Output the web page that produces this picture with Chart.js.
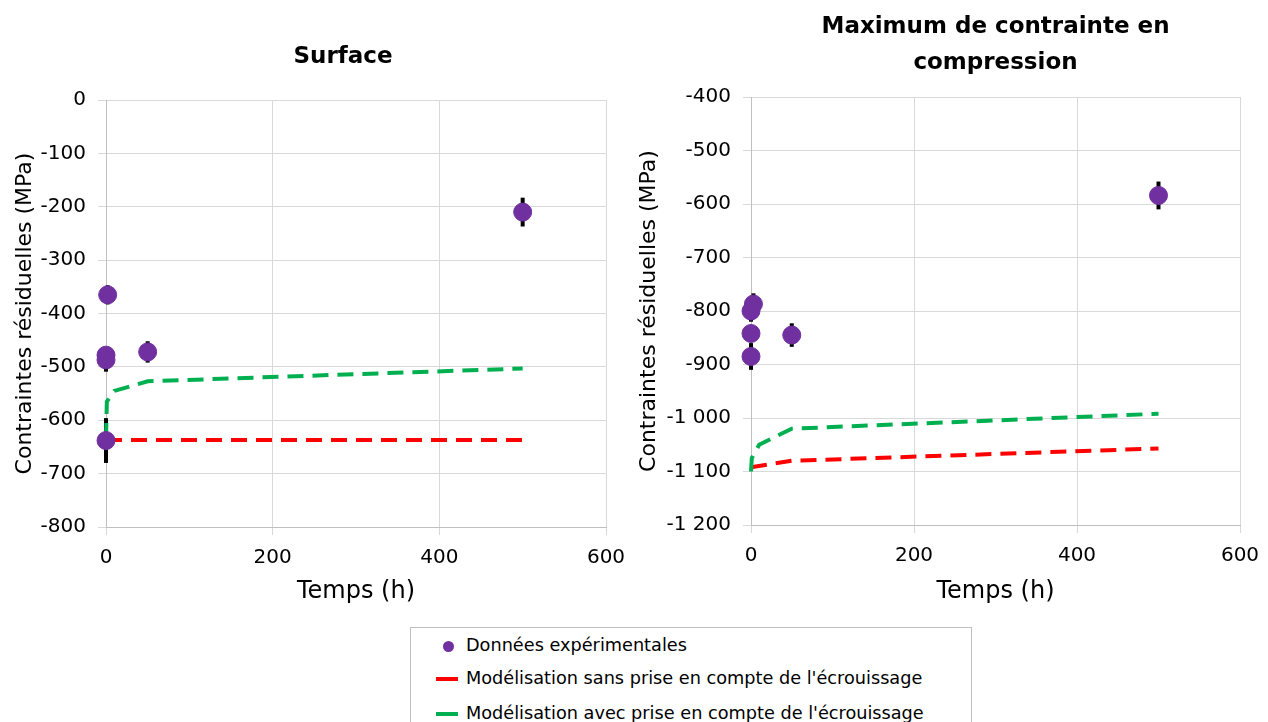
<!DOCTYPE html>
<html>
<head>
<meta charset="utf-8">
<script src="https://cdn.jsdelivr.net/npm/chart.js@4"></script>
<style>
  body { margin: 0; background: #fff; width: 1268px; height: 722px; overflow: hidden; position: relative; font-family: "DejaVu Sans", sans-serif; }
  #c1 { position: absolute; left: 0; top: 0; }
  #c2 { position: absolute; left: 620px; top: 0; }
  #legend { position: absolute; left: 410px; top: 627px; width: 562px; height: 110px; border: 1px solid #bfbfbf; box-sizing: border-box; }
  .item { position: absolute; left: 0; font-size: 17.7px; color: #000; white-space: nowrap; }
  .item span { position: absolute; left: 55px; top: -11px; }
  .dot { position: absolute; left: 32px; top: -5px; width: 11px; height: 11px; border-radius: 50%; background: #7030A0; }
  .dash { position: absolute; left: 25px; top: -2px; width: 22px; height: 4px; }
</style>
</head>
<body>
<canvas id="c1" width="640" height="612"></canvas>
<canvas id="c2" width="648" height="612"></canvas>
<div id="legend">
  <div class="item" style="top:18px"><div class="dot"></div><span>Données expérimentales</span></div>
  <div class="item" style="top:51px"><div class="dash" style="background:#FF0000"></div><span>Modélisation sans prise en compte de l'écrouissage</span></div>
  <div class="item" style="top:86px"><div class="dash" style="background:#00B050"></div><span>Modélisation avec prise en compte de l'écrouissage</span></div>
</div>
<script>
// Surface
const surfTemps = [500, 2, 0, 0, 50, 0];
const surfVals = [-210, -365, -478, -487, -472, -638];
const surfErr = [27, 18, 15, 22, 20, 42];
const surfSansT = [0, 500];
const surfSansV = [-637, -637];
const surfAvecT = [0, 1, 10, 50, 500];
const surfAvecV = [-635, -565, -545, -527, -503];

// Maximum de contrainte en compression
const maxTemps = [500, 0, 3, 0, 0, 50];
const maxVals = [-584, -800, -787, -842, -885, -845];
const maxErr = [26, 20, 20, 15, 25, 22];
const maxSansT = [0, 50, 500];
const maxSansV = [-1092, -1080, -1057];
const maxAvecT = [0, 1, 10, 50, 500];
const maxAvecV = [-1100, -1075, -1050, -1020, -992];

const xTicks = [0, 200, 400, 600];

const font = 'DejaVu Sans';
const toPts = (xs, ys) => xs.map((x, i) => ({ x: x, y: ys[i] }));
const fmt = (v) => {
  const s = Math.abs(v).toString().replace(/\B(?=(\d{3})+(?!\d))/g, ' ');
  return (v < 0 ? '-' : '') + s;
};

// error bars drawn under the points
const errorBars = {
  id: 'errorBars',
  beforeDatasetsDraw(chart) {
    const ctx = chart.ctx;
    const xs = chart.scales.x, ys = chart.scales.y;
    chart.data.datasets.forEach((ds) => {
      if (!ds.errBars) return;
      ctx.save();
      ctx.strokeStyle = '#000';
      ctx.lineWidth = 4;
      ds.data.forEach((p, i) => {
        const px = xs.getPixelForValue(p.x);
        ctx.beginPath();
        ctx.moveTo(px, ys.getPixelForValue(p.y + ds.errBars[i]));
        ctx.lineTo(px, ys.getPixelForValue(p.y - ds.errBars[i]));
        ctx.stroke();
      });
      ctx.restore();
    });
  }
};

// chart title centred over the plot area
const plotTitle = {
  id: 'plotTitle',
  afterDraw(chart, args, opts) {
    const ctx = chart.ctx;
    const a = chart.chartArea;
    ctx.save();
    ctx.fillStyle = '#000';
    ctx.font = 'bold 23px "' + font + '"';
    ctx.textAlign = 'center';
    ctx.textBaseline = 'middle';
    opts.lines.forEach((t, i) => {
      ctx.fillText(t, (a.left + a.right) / 2 + opts.dx, opts.y0 + i * 36);
    });
    ctx.restore();
  }
};

function makeChart(el, cfg) {
  return new Chart(el, {
    type: 'scatter',
    data: {
      datasets: [
        {
          label: 'Données expérimentales',
          data: toPts(cfg.temps, cfg.vals),
          errBars: cfg.err,
          backgroundColor: '#7030A0',
          borderColor: '#7030A0',
          pointRadius: 9,
          clip: false,
          order: 0
        },
        {
          label: "Modélisation sans prise en compte de l'écrouissage",
          data: toPts(cfg.sansT, cfg.sansV),
          showLine: true,
          borderColor: '#FF0000',
          borderWidth: 4,
          borderDash: [16, 9],
          pointRadius: 0,
          clip: false,
          order: 2
        },
        {
          label: "Modélisation avec prise en compte de l'écrouissage",
          data: toPts(cfg.avecT, cfg.avecV),
          showLine: true,
          borderColor: '#00B050',
          borderWidth: 4,
          borderDash: [16, 9],
          pointRadius: 0,
          clip: false,
          order: 1
        }
      ]
    },
    options: {
      responsive: false,
      animation: false,
      layout: { padding: cfg.pad },
      plugins: {
        legend: { display: false },
        tooltip: { enabled: false },
        title: { display: false },
        plotTitle: { lines: cfg.title, dx: cfg.titleDx, y0: cfg.titleY }
      },
      scales: {
        x: {
          type: 'linear',
          min: 0, max: 600,
          afterBuildTicks: (s) => { s.ticks = xTicks.map(v => ({ value: v })); },
          afterFit: (s) => { s.height = cfg.xH; s.paddingLeft = 0; s.paddingRight = 0; },
          grid: { color: '#d9d9d9', tickLength: 8, lineWidth: 1 },
          border: { color: '#bfbfbf' },
          ticks: { color: '#000', font: { family: font, size: 20 }, padding: 11, maxRotation: 0 },
          title: { display: true, text: 'Temps (h)', color: '#000', font: { family: font, size: 24 }, padding: { top: 0, bottom: 6 } }
        },
        y: {
          min: cfg.yMin, max: cfg.yMax,
          afterFit: (s) => { s.width = cfg.yW; },
          grid: { color: '#d9d9d9', tickLength: 8, lineWidth: 1 },
          border: { color: '#bfbfbf' },
          ticks: { stepSize: 100, color: '#000', font: { family: font, size: 20 }, padding: 12, callback: fmt },
          title: { display: true, text: 'Contraintes résiduelles (MPa)', color: '#000', font: { family: font, size: 22 }, padding: { top: cfg.yTitleTop, bottom: 0 } }
        }
      }
    },
    plugins: [errorBars, plotTitle]
  });
}

makeChart(document.getElementById('c1'), {
  temps: surfTemps, vals: surfVals, err: surfErr,
  sansT: surfSansT, sansV: surfSansV, avecT: surfAvecT, avecV: surfAvecV,
  title: ['Surface'], titleDx: -13, titleY: 57,
  pad: { left: 0, right: 34, top: 100, bottom: 0 },
  xH: 85, yW: 106, yTitleTop: 12, yMin: -800, yMax: 0
});

makeChart(document.getElementById('c2'), {
  temps: maxTemps, vals: maxVals, err: maxErr,
  sansT: maxSansT, sansV: maxSansV, avecT: maxAvecT, avecV: maxAvecV,
  title: ['Maximum de contrainte en', 'compression'], titleDx: 0, titleY: 27,
  pad: { left: 0, right: 28, top: 97, bottom: 0 },
  xH: 87, yW: 131, yTitleTop: 16, yMin: -1200, yMax: -400
});
</script>
</body>
</html>
